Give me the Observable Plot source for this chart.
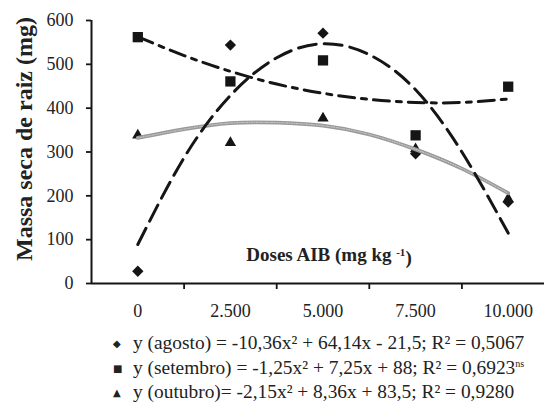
<!DOCTYPE html>
<html>
<head>
<meta charset="utf-8">
<script src="https://cdn.jsdelivr.net/npm/d3@7"></script>
<script src="https://cdn.jsdelivr.net/npm/@observablehq/plot@0.6"></script>
<style>
  html, body { margin: 0; padding: 0; background: #fff; }
  #chart { width: 544px; }
  #chart svg { font-family: "Liberation Serif", "DejaVu Serif", serif !important; }
  #legend { font-family: "Liberation Serif", "DejaVu Serif", serif; font-size: 19.4px; line-height: 23.5px; padding-top: 6px; padding-left: 113px; color: #222; white-space: nowrap; }
  #legend .m { display: inline-block; width: 20px; font-family: "DejaVu Sans", sans-serif; font-size: 10px; vertical-align: 2px; }
  #legend sup { font-size: 10px; vertical-align: 7px; line-height: 0; }
</style>
</head>
<body>
<div id="chart"></div>
<script>
// ---- data ----
const doses = [0, 2500, 5000, 7500, 10000];
const xTickLabels = ["0", "2.500", "5.000", "7.500", "10.000"];
const xBoundaries = [1250, 3750, 6250, 8750];
const yTicks = [0, 100, 200, 300, 400, 500, 600];

const agosto = [28, 544, 571, 296, 186];
const setembro = [562, 461, 509, 338, 449];
const outubro = [338, 321, 377, 307, 193];

const curveDoses = [0, 1250, 2500, 3750, 5000, 6250, 7500, 8750, 10000];
const agostoFit = [89, 287, 429, 515, 547, 522, 442, 300, 115];
const setembroFit = [563, 520, 484, 455, 434, 420, 413, 413, 421];
const outubroFit = [332, 352, 366, 367, 360, 340, 306, 262, 206];

const yTitle = "Massa seca de raiz (mg)";
const xTitle = "Doses AIB (mg kg -1)";
const legendSymbols = ["◆", "■", "▲"];
const legendLabels = [
  "y (agosto) = -10,36x² + 64,14x - 21,5; R² = 0,5067",
  "y (setembro) = -1,25x² + 7,25x + 88; R² = 0,6923",
  "y (outubro)= -2,15x² + 8,36x + 83,5; R² = 0,9280"
];
const legendSup = ["", "ns", ""];

// ---- tables ----
const pts = (arr) => doses.map((d, i) => ({dose: d, v: arr[i]}));
const fit = (arr) => curveDoses.map((d, i) => ({dose: d, v: arr[i]}));
const fmtX = (d) => xTickLabels[doses.indexOf(d)];
const ink = "#151515";
const serif = "Liberation Serif, DejaVu Serif, serif";

const chart = Plot.plot({
  width: 544,
  height: 325,
  marginLeft: 91,
  marginRight: 0,
  marginTop: 20,
  marginBottom: 42,
  x: {domain: [-1250, 11250], range: [91, 554]},
  y: {domain: [0, 600]},
  style: {background: "white", color: "#222", overflow: "visible"},
  marks: [
    Plot.axisY(yTicks, {tickSize: 5, tickPadding: 13, fontSize: 18, fontFamily: serif, label: null, strokeWidth: 1.8, stroke: ink}),
    Plot.axisX(xBoundaries, {tickSize: 6, tickFormat: () => "", label: null, strokeWidth: 1.8, stroke: ink}),
    Plot.axisX(doses, {tickSize: 0, tickPadding: 21, tickFormat: fmtX, fontSize: 18, fontFamily: serif, label: null}),
    Plot.ruleX([-1250], {y1: 0, y2: 600, stroke: ink, strokeWidth: 2}),
    Plot.ruleY([0], {stroke: ink, strokeWidth: 2}),
    Plot.text([yTitle], {frameAnchor: "left", textAnchor: "middle", lineAnchor: "middle", dx: -67, dy: -13, rotate: -90, fontSize: 24, fontWeight: "bold", fontFamily: serif, fill: "#222"}),
    Plot.text([xTitle], {frameAnchor: "bottom", textAnchor: "middle", lineAnchor: "middle", dx: 11, dy: -29, fontSize: 19, fontWeight: "bold", fontFamily: serif, fill: "#222"}),
    Plot.dot(pts(outubro), {x: "dose", y: "v", symbol: "triangle", r: 4.2, fill: ink, stroke: "none"}),
    Plot.dot(pts(setembro), {x: "dose", y: "v", symbol: "square", r: 5.8, fill: ink, stroke: "none"}),
    Plot.dot(pts(agosto), {x: "dose", y: "v", symbol: "diamond2", r: 5.1, fill: ink, stroke: "none"}),
    Plot.line(fit(outubroFit), {x: "dose", y: "v", curve: "natural", stroke: "#9a9a9a", strokeWidth: 3.8}),
    Plot.line(fit(outubroFit), {x: "dose", y: "v", curve: "natural", stroke: "#cfcfcf", strokeWidth: 1, strokeDasharray: "1,1.5"}),
    Plot.line(fit(setembroFit), {x: "dose", y: "v", curve: "natural", stroke: ink, strokeWidth: 3, strokeDasharray: "16,7,5,7"}),
    Plot.line(fit(agostoFit), {x: "dose", y: "v", curve: "natural", stroke: ink, strokeWidth: 3, strokeDasharray: "18,8"})
  ]
});

// superscript in the x title
d3.select(chart).selectAll("text").filter(function () { return this.textContent === xTitle; })
  .each(function () {
    const t = d3.select(this);
    t.text(null);
    t.append("tspan").text("Doses AIB (mg kg ");
    t.append("tspan").attr("font-size", 11).attr("dy", "-0.45em").text("-1");
    t.append("tspan").attr("dy", "0.45em").text(")");
  });

document.getElementById("chart").appendChild(chart);

const legend = document.createElement("div");
legend.id = "legend";
legendLabels.forEach((lab, i) => {
  const row = document.createElement("div");
  const m = document.createElement("span");
  m.className = "m";
  m.textContent = legendSymbols[i];
  row.appendChild(m);
  row.appendChild(document.createTextNode(lab));
  if (legendSup[i]) {
    const s = document.createElement("sup");
    s.textContent = legendSup[i];
    row.appendChild(s);
  }
  legend.appendChild(row);
});
document.getElementById("chart").appendChild(legend);
</script>
</body>
</html>
